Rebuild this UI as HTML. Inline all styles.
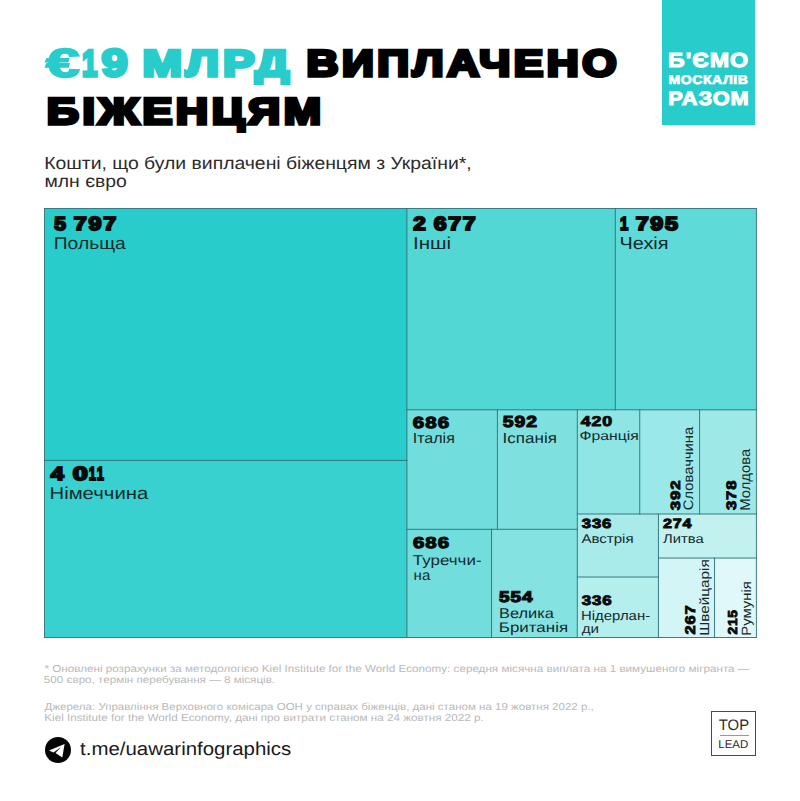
<!DOCTYPE html>
<html lang="uk">
<head>
<meta charset="utf-8">
<title>€19 млрд виплачено біженцям</title>
<style>
html,body{margin:0;padding:0;background:#fff;}
body{width:800px;height:801px;position:relative;overflow:hidden;font-family:"Liberation Sans",sans-serif;}
.t{position:absolute;left:0;top:0;white-space:pre;line-height:1;transform-origin:0 0;font-family:"Liberation Sans",sans-serif;text-rendering:geometricPrecision;}
.badge{position:absolute;left:662px;top:0;width:93px;height:125px;background:#28cdcb;}
.tm{position:absolute;left:0;top:0;}
.c{position:absolute;}
.grid{position:absolute;left:0;top:0;}
.logo{position:absolute;left:711px;top:711px;width:45px;height:45px;box-sizing:border-box;border:1.2px solid #4a4a4a;background:#fff;}
.logo i{position:absolute;left:7.5px;top:22.6px;width:29.5px;height:1.3px;background:#b583c4;}
.tg{position:absolute;left:44.5px;top:736.7px;width:26px;height:26px;}
</style>
</head>
<body>
<div class="badge"></div>
<div class="tm">
<div class="c" title="Польща" style="left:44.50px;top:208.50px;width:362.40px;height:251.90px;background:#28cdcb"></div>
<div class="c" title="Німеччина" style="left:44.50px;top:460.40px;width:362.40px;height:177.10px;background:#39d1cf"></div>
<div class="c" title="Інші" style="left:406.90px;top:208.50px;width:208.40px;height:201.30px;background:#53d7d5"></div>
<div class="c" title="Чехія" style="left:615.30px;top:208.50px;width:141.10px;height:201.30px;background:#5edad8"></div>
<div class="c" title="Італія" style="left:406.90px;top:409.80px;width:90.50px;height:119.50px;background:#71dedd"></div>
<div class="c" title="Іспанія" style="left:497.40px;top:409.80px;width:79.90px;height:119.50px;background:#7ee1e0"></div>
<div class="c" title="Франція" style="left:577.30px;top:409.80px;width:62.45px;height:104.20px;background:#8fe5e4"></div>
<div class="c" title="Словаччина" style="left:639.75px;top:409.80px;width:59.85px;height:104.20px;background:#9ae8e7"></div>
<div class="c" title="Молдова" style="left:699.60px;top:409.80px;width:56.80px;height:104.20px;background:#9ee8e8"></div>
<div class="c" title="Туреччина" style="left:406.90px;top:529.30px;width:84.65px;height:108.20px;background:#71dedd"></div>
<div class="c" title="Велика Британія" style="left:491.55px;top:529.30px;width:85.75px;height:108.20px;background:#84e2e1"></div>
<div class="c" title="Австрія" style="left:577.30px;top:514.00px;width:81.15px;height:63.00px;background:#a9ebea"></div>
<div class="c" title="Нідерланди" style="left:577.30px;top:577.00px;width:81.15px;height:60.50px;background:#b4eeed"></div>
<div class="c" title="Литва" style="left:658.45px;top:514.00px;width:97.95px;height:44.05px;background:#c3f1f0"></div>
<div class="c" title="Швейцарія" style="left:658.45px;top:558.05px;width:56.10px;height:79.45px;background:#d4f5f5"></div>
<div class="c" title="Румунія" style="left:714.55px;top:558.05px;width:41.85px;height:79.45px;background:#e1f8f8"></div>
<svg class="grid" width="800" height="801" viewBox="0 0 800 801"><path d="M44.50 208.50L756.40 208.50M44.50 637.50L756.40 637.50M44.50 208.50L44.50 637.50M756.40 208.50L756.40 637.50M44.50 460.40L406.90 460.40M406.90 208.50L406.90 637.50M615.30 208.50L615.30 409.80M406.90 409.80L756.40 409.80M497.40 409.80L497.40 529.30M577.30 409.80L577.30 637.50M406.90 529.30L577.30 529.30M491.55 529.30L491.55 637.50M639.75 409.80L639.75 514.00M699.60 409.80L699.60 514.00M577.30 514.00L756.40 514.00M658.45 514.00L658.45 637.50M577.30 577.00L658.45 577.00M658.45 558.05L756.40 558.05M714.55 558.05L714.55 637.50" fill="none" stroke="#30757b" stroke-width="0.95" stroke-linecap="square"/></svg>
</div>
<div class="logo"><i></i></div>
<svg class="tg" viewBox="0 0 26 26"><circle cx="13" cy="13" r="13" fill="#050505"/><path d="M4.0 13.5 L19.6 7.0 L17.3 20.5 L10.5 16 L16 9.9 L8.6 15.5 Z" fill="#fff"/></svg>
<span class="t" style="font-size:40.7px;color:#28cdcb;transform:translate(45.86px,43.10px) scaleX(1.5029);font-weight:700;-webkit-text-stroke:1.6px #28cdcb;">€</span>
<span class="t" style="font-size:37.21px;color:#28cdcb;transform:translate(82.05px,44.80px) scaleX(0.7406);font-weight:700;-webkit-text-stroke:3.4px #28cdcb;">1</span>
<span class="t" style="font-size:38.52px;color:#28cdcb;transform:translate(101.47px,45.30px) scaleX(1.2215);font-weight:700;-webkit-text-stroke:3.2px #28cdcb;">9</span>
<span class="t" style="font-size:37.21px;color:#28cdcb;transform:translate(142.50px,44.80px) scaleX(1.2739);font-weight:700;-webkit-text-stroke:3.4px #28cdcb;letter-spacing:3.0px;">МЛРД</span>
<span class="t" style="font-size:37.21px;color:#000;transform:translate(306.49px,44.80px) scaleX(1.1873);font-weight:700;-webkit-text-stroke:3.4px #000;letter-spacing:3.0px;">ВИПЛАЧЕНО</span>
<span class="t" style="font-size:37.21px;color:#000;transform:translate(46.65px,93.30px) scaleX(1.2019);font-weight:700;-webkit-text-stroke:3.4px #000;letter-spacing:3.0px;">БІЖЕНЦЯМ</span>
<span class="t" style="font-size:17.44px;color:#2b2b2b;transform:translate(44.16px,155.20px) scaleX(1.1109);">Кошти, що були виплачені біженцям з України*,</span>
<span class="t" style="font-size:17.44px;color:#2b2b2b;transform:translate(44.44px,172.75px) scaleX(1.1109);">млн євро</span>
<span class="t" style="font-size:20.35px;color:#fff;transform:translate(668.11px,51.00px) scaleX(1.1453);font-weight:700;-webkit-text-stroke:1.0px #fff;letter-spacing:0.8px;">Б'ЄМО</span>
<span class="t" style="font-size:12.5px;color:#fff;transform:translate(668.56px,73.95px) scaleX(1.1209);font-weight:700;-webkit-text-stroke:0.7px #fff;letter-spacing:0.5px;">МОСКАЛІВ</span>
<span class="t" style="font-size:19.26px;color:#fff;transform:translate(668.22px,89.50px) scaleX(1.1319);font-weight:700;-webkit-text-stroke:1.0px #fff;letter-spacing:0.8px;">РАЗОМ</span>
<span class="t" style="font-size:19.0px;color:#0a0a0a;transform:translate(54.33px,215.11px) scaleX(1.1068);font-weight:700;-webkit-text-stroke:1.9px #0a0a0a;">5</span>
<span class="t" style="font-size:19.0px;color:#0a0a0a;transform:translate(73.66px,215.36px) scaleX(1.2324);font-weight:700;-webkit-text-stroke:1.9px #0a0a0a;letter-spacing:1.4px;">797</span>
<span class="t" style="font-size:17.01px;color:#14292c;transform:translate(53.72px,235.30px) scaleX(1.1341);">Польща</span>
<span class="t" style="font-size:19.0px;color:#0a0a0a;transform:translate(50.68px,464.55px) scaleX(1.2386);font-weight:700;-webkit-text-stroke:1.9px #0a0a0a;">4</span>
<span class="t" style="font-size:19.0px;color:#0a0a0a;transform:translate(72.65px,464.57px) scaleX(1.4203);font-weight:700;-webkit-text-stroke:1.9px #0a0a0a;">0</span>
<span class="t" style="font-size:19.0px;color:#0a0a0a;transform:translate(88.84px,464.55px) scaleX(0.6810);font-weight:700;-webkit-text-stroke:1.9px #0a0a0a;">1</span>
<span class="t" style="font-size:19.0px;color:#0a0a0a;transform:translate(96.84px,464.55px) scaleX(0.6810);font-weight:700;-webkit-text-stroke:1.9px #0a0a0a;">1</span>
<span class="t" style="font-size:17.15px;color:#14292c;transform:translate(49.47px,484.60px) scaleX(1.1848);">Німеччина</span>
<span class="t" style="font-size:19.0px;color:#0a0a0a;transform:translate(413.15px,214.77px) scaleX(1.1833);font-weight:700;-webkit-text-stroke:1.9px #0a0a0a;">2</span>
<span class="t" style="font-size:19.0px;color:#0a0a0a;transform:translate(433.84px,215.31px) scaleX(1.2126);font-weight:700;-webkit-text-stroke:1.9px #0a0a0a;letter-spacing:1.4px;">677</span>
<span class="t" style="font-size:17.15px;color:#14292c;transform:translate(412.97px,235.20px) scaleX(1.2008);">Інші</span>
<span class="t" style="font-size:19.0px;color:#0a0a0a;transform:translate(619.91px,215.45px) scaleX(0.7796);font-weight:700;-webkit-text-stroke:1.9px #0a0a0a;">1</span>
<span class="t" style="font-size:19.0px;color:#0a0a0a;transform:translate(635.64px,215.33px) scaleX(1.2251);font-weight:700;-webkit-text-stroke:1.9px #0a0a0a;letter-spacing:1.4px;">795</span>
<span class="t" style="font-size:17.3px;color:#14292c;transform:translate(619.52px,235.30px) scaleX(1.1518);">Чехія</span>
<span class="t" style="font-size:15.99px;color:#0a0a0a;transform:translate(412.86px,415.54px) scaleX(1.2813);font-weight:700;-webkit-text-stroke:1.1px #0a0a0a;letter-spacing:0.8px;">686</span>
<span class="t" style="font-size:14.61px;color:#14292c;transform:translate(412.70px,432.25px) scaleX(1.0966);">Італія</span>
<span class="t" style="font-size:15.92px;color:#0a0a0a;transform:translate(502.85px,415.43px) scaleX(1.2190);font-weight:700;-webkit-text-stroke:1.1px #0a0a0a;letter-spacing:0.8px;">592</span>
<span class="t" style="font-size:14.61px;color:#14292c;transform:translate(502.61px,432.25px) scaleX(1.1649);">Іспанія</span>
<span class="t" style="font-size:15.85px;color:#0a0a0a;transform:translate(412.94px,536.37px) scaleX(1.2871);font-weight:700;-webkit-text-stroke:1.1px #0a0a0a;letter-spacing:0.8px;">686</span>
<span class="t" style="font-size:14.17px;color:#14292c;transform:translate(412.86px,553.90px) scaleX(1.1957);">Туреччи-</span>
<span class="t" style="font-size:14.2px;color:#14292c;transform:translate(413.61px,569.10px) scaleX(1.0626);">на</span>
<span class="t" style="font-size:15.43px;color:#0a0a0a;transform:translate(499.07px,590.16px) scaleX(1.2291);font-weight:700;-webkit-text-stroke:1.1px #0a0a0a;letter-spacing:0.8px;">554</span>
<span class="t" style="font-size:14.1px;color:#14292c;transform:translate(499.01px,605.50px) scaleX(1.1609);">Велика</span>
<span class="t" style="font-size:13.95px;color:#14292c;transform:translate(498.83px,621.40px) scaleX(1.2146);">Британія</span>
<span class="t" style="font-size:14.23px;color:#0a0a0a;transform:translate(580.76px,415.46px) scaleX(1.2474);font-weight:700;-webkit-text-stroke:0.9px #0a0a0a;letter-spacing:0.7px;">420</span>
<span class="t" style="font-size:12.79px;color:#14292c;transform:translate(579.54px,430.00px) scaleX(1.2342);">Франція</span>
<span class="t" style="font-size:13.19px;color:#0a0a0a;transform:translate(581.75px,516.78px) scaleX(1.2649);font-weight:700;-webkit-text-stroke:0.9px #0a0a0a;letter-spacing:0.7px;">336</span>
<span class="t" style="font-size:12.72px;color:#14292c;transform:translate(581.39px,532.90px) scaleX(1.1853);">Австрія</span>
<span class="t" style="font-size:13.43px;color:#0a0a0a;transform:translate(662.91px,517.26px) scaleX(1.1988);font-weight:700;-webkit-text-stroke:0.9px #0a0a0a;letter-spacing:0.7px;">274</span>
<span class="t" style="font-size:12.72px;color:#14292c;transform:translate(662.92px,532.90px) scaleX(1.1641);">Литва</span>
<span class="t" style="font-size:13.75px;color:#0a0a0a;transform:translate(581.65px,594.20px) scaleX(1.2282);font-weight:700;-webkit-text-stroke:0.9px #0a0a0a;letter-spacing:0.7px;">336</span>
<span class="t" style="font-size:13.08px;color:#14292c;transform:translate(581.03px,609.10px) scaleX(1.1407);">Нідерлан-</span>
<span class="t" style="font-size:13.0px;color:#14292c;transform:translate(581.76px,621.80px) scaleX(1.1638);">ди</span>
<span class="t" style="font-size:13.33px;color:#0a0a0a;transform:translate(669.07px,510.19px) rotate(-90deg) scaleX(1.2614);font-weight:700;-webkit-text-stroke:0.9px #0a0a0a;letter-spacing:0.7px;">392</span>
<span class="t" style="font-size:13.74px;color:#14292c;transform:translate(682.35px,510.19px) rotate(-90deg) scaleX(1.0774);">Словаччина</span>
<span class="t" style="font-size:13.75px;color:#0a0a0a;transform:translate(725.13px,510.02px) rotate(-90deg) scaleX(1.2133);font-weight:700;-webkit-text-stroke:0.9px #0a0a0a;letter-spacing:0.7px;">378</span>
<span class="t" style="font-size:14.24px;color:#14292c;transform:translate(739.40px,510.75px) rotate(-90deg) scaleX(1.0414);">Молдова</span>
<span class="t" style="font-size:14.01px;color:#0a0a0a;transform:translate(682.75px,634.42px) rotate(-90deg) scaleX(1.1713);font-weight:700;-webkit-text-stroke:0.9px #0a0a0a;letter-spacing:0.7px;">267</span>
<span class="t" style="font-size:13.3px;color:#14292c;transform:translate(697.80px,635.80px) rotate(-90deg) scaleX(1.1514);">Швейцарія</span>
<span class="t" style="font-size:12.96px;color:#0a0a0a;transform:translate(726.57px,634.44px) rotate(-90deg) scaleX(1.0626);font-weight:700;-webkit-text-stroke:0.9px #0a0a0a;letter-spacing:0.7px;">215</span>
<span class="t" style="font-size:13.44px;color:#14292c;transform:translate(739.65px,635.63px) rotate(-90deg) scaleX(1.1034);">Румунія</span>
<span class="t" style="font-size:10.17px;color:#b9b9b9;transform:translate(44.45px,665.00px) scaleX(1.1489);">* Оновлені розрахунки за методологією Kiel Institute for the World Economy: середня місячна виплата на 1 вимушеного мігранта —</span>
<span class="t" style="font-size:10.17px;color:#b9b9b9;transform:translate(43.87px,676.00px) scaleX(1.1456);">500 євро, термін перебування — 8 місяців.</span>
<span class="t" style="font-size:10.17px;color:#b9b9b9;transform:translate(44.52px,703.00px) scaleX(1.1345);">Джерела: Управління Верховного комісара ООН у справах біженців, дані станом на 19 жовтня 2022 р.,</span>
<span class="t" style="font-size:10.17px;color:#b9b9b9;transform:translate(44.28px,714.00px) scaleX(1.1488);">Kiel Institute for the World Economy, дані про витрати станом на 24 жовтня 2022 р.</span>
<span class="t" style="font-size:18.55px;color:#1a1a1a;transform:translate(80.09px,740.40px) scaleX(1.1023);">t.me/uawarinfographics</span>
<span class="t" style="font-size:15.12px;color:#2a2a2a;transform:translate(718.75px,717.50px) scaleX(0.9841);">TOP</span>
<span class="t" style="font-size:11.34px;color:#2a2a2a;transform:translate(718.30px,739.80px) scaleX(1.0122);">LEAD</span>
</body>
</html>
